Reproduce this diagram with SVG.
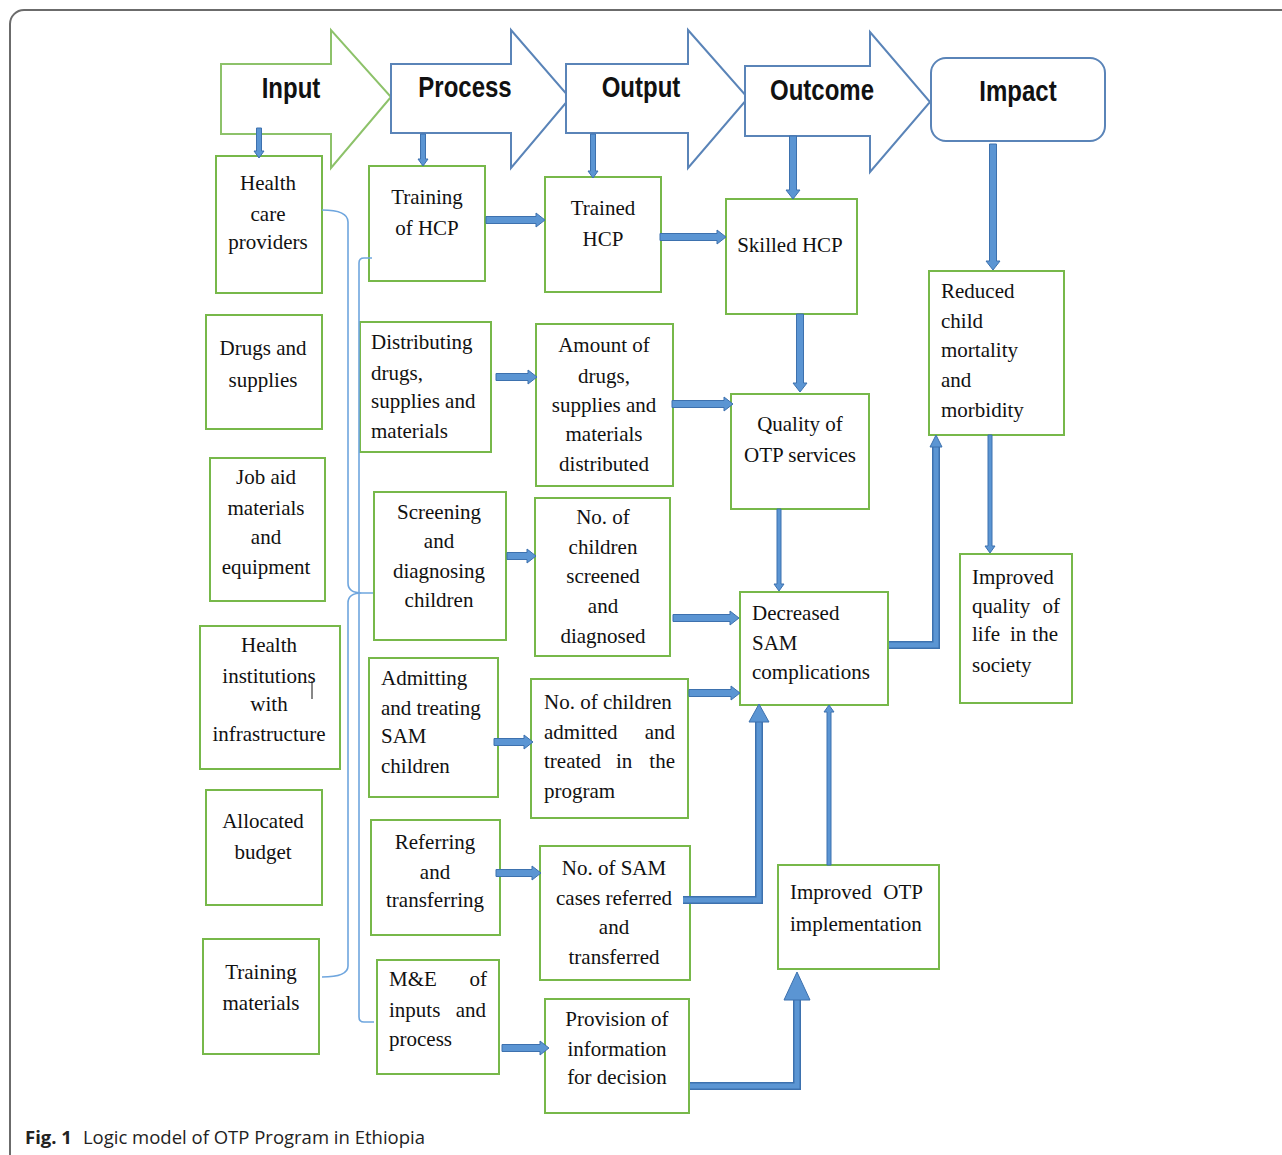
<svg xmlns="http://www.w3.org/2000/svg" width="1282" height="1155" viewBox="0 0 1282 1155">
<defs>
<style>
.box{fill:#fff;stroke:#77b84a;stroke-width:2}
.t{font-family:"Liberation Serif","Times New Roman",serif;font-size:21px;fill:#111}
.c{text-anchor:middle}
.e{text-anchor:end}
.hd{font-family:"Liberation Sans",Arial,sans-serif;font-size:24px;font-weight:bold;fill:#111;text-anchor:middle}
.blk{fill:#5b95d3;stroke:#3d71ae;stroke-width:1}
.under{fill:none;stroke:#3d71ae;stroke-width:8}
.over{fill:none;stroke:#5b95d3;stroke-width:5}
.brace{fill:none;stroke:#6fa6de;stroke-width:1.6}
</style>
</defs>
<rect width="1282" height="1155" fill="#fff"/>
<rect x="10" y="10" width="1300" height="1170" rx="14" fill="none" stroke="#6b6b6b" stroke-width="2"/>

<g id="headers">
<g id="h-input"><path d="M221,64 L331,64 L331,30 L391,97 L331,168 L331,134 L221,134 Z" fill="#fff" stroke="#8dc26a" stroke-width="2"/>
<text class="hd" transform="translate(291,98) scale(1,1.25)">Input</text></g>
<g id="h-process"><path d="M391,64 L511,64 L511,30 L570,98 L511,168 L511,133 L391,133 Z" fill="#fff" stroke="#5a84b8" stroke-width="2"/>
<text class="hd" transform="translate(465,97) scale(1,1.25)">Process</text></g>
<g id="h-output"><path d="M566,64 L688,64 L688,30 L748,98 L688,168 L688,133 L566,133 Z" fill="#fff" stroke="#5a84b8" stroke-width="2"/>
<text class="hd" transform="translate(641,97) scale(1,1.25)">Output</text></g>
<g id="h-outcome"><path d="M745,66 L870,66 L870,32 L930,102 L870,172 L870,136 L745,136 Z" fill="#fff" stroke="#5a84b8" stroke-width="2"/>
<text class="hd" transform="translate(822,100) scale(1,1.25)">Outcome</text></g>
<g id="h-impact"><rect x="931" y="58" width="174" height="83" rx="15" fill="#fff" stroke="#5a84b8" stroke-width="2"/>
<text class="hd" transform="translate(1018,101) scale(1,1.25)">Impact</text></g>
</g>

<g id="in1"><rect class="box" x="216" y="156" width="106" height="137"/>
<text class="t c" x="268" y="190">Health</text><text class="t c" x="268" y="221">care</text><text class="t c" x="268" y="249">providers</text></g>
<g id="in2"><rect class="box" x="206" y="315" width="116" height="114"/>
<text class="t c" x="263" y="355">Drugs and</text><text class="t c" x="263" y="387">supplies</text></g>
<g id="in3"><rect class="box" x="210" y="458" width="115" height="143"/>
<text class="t c" x="266" y="484">Job aid</text><text class="t c" x="266" y="515">materials</text><text class="t c" x="266" y="544">and</text><text class="t c" x="266" y="574">equipment</text></g>
<g id="in4"><rect class="box" x="200" y="626" width="140" height="143"/>
<text class="t c" x="269" y="652">Health</text><text class="t c" x="269" y="683">institutions</text><text class="t c" x="269" y="711">with</text><text class="t c" x="269" y="741">infrastructure</text>
<line x1="312" y1="681" x2="312" y2="699" stroke="#111" stroke-width="1"/></g>
<g id="in5"><rect class="box" x="206" y="790" width="116" height="115"/>
<text class="t c" x="263" y="828">Allocated</text><text class="t c" x="263" y="859">budget</text></g>
<g id="in6"><rect class="box" x="203" y="939" width="116" height="115"/>
<text class="t c" x="261" y="979">Training</text><text class="t c" x="261" y="1010">materials</text></g>

<g id="p1"><rect class="box" x="369" y="166" width="116" height="115"/>
<text class="t c" x="427" y="204">Training</text><text class="t c" x="427" y="235">of HCP</text></g>
<g id="p2"><rect class="box" x="360" y="322" width="131" height="130"/>
<text class="t" x="371" y="349">Distributing</text><text class="t" x="371" y="380">drugs,</text><text class="t" x="371" y="408">supplies and</text><text class="t" x="371" y="438">materials</text></g>
<g id="p3"><rect class="box" x="374" y="492" width="132" height="148"/>
<text class="t c" x="439" y="519">Screening</text><text class="t c" x="439" y="548">and</text><text class="t c" x="439" y="578">diagnosing</text><text class="t c" x="439" y="607">children</text></g>
<g id="p4"><rect class="box" x="369" y="658" width="129" height="139"/>
<text class="t" x="381" y="685">Admitting</text><text class="t" x="381" y="715">and treating</text><text class="t" x="381" y="743">SAM</text><text class="t" x="381" y="773">children</text></g>
<g id="p5"><rect class="box" x="371" y="820" width="129" height="115"/>
<text class="t c" x="435" y="849">Referring</text><text class="t c" x="435" y="879">and</text><text class="t c" x="435" y="907">transferring</text></g>
<g id="p6"><rect class="box" x="377" y="960" width="122" height="114"/>
<text class="t" x="389" y="986">M&amp;E</text><text class="t e" x="487" y="986">of</text>
<text class="t" x="389" y="1017">inputs</text><text class="t e" x="486" y="1017">and</text>
<text class="t" x="389" y="1046">process</text></g>

<g id="o1"><rect class="box" x="545" y="177" width="116" height="115"/>
<text class="t c" x="603" y="215">Trained</text><text class="t c" x="603" y="246">HCP</text></g>
<g id="o2"><rect class="box" x="536" y="324" width="137" height="162"/>
<text class="t c" x="604" y="352">Amount of</text><text class="t c" x="604" y="383">drugs,</text><text class="t c" x="604" y="412">supplies and</text><text class="t c" x="604" y="441">materials</text><text class="t c" x="604" y="471">distributed</text></g>
<g id="o3"><rect class="box" x="535" y="498" width="135" height="158"/>
<text class="t c" x="603" y="524">No. of</text><text class="t c" x="603" y="554">children</text><text class="t c" x="603" y="583">screened</text><text class="t c" x="603" y="613">and</text><text class="t c" x="603" y="643">diagnosed</text></g>
<g id="o4"><rect class="box" x="531" y="679" width="157" height="139"/>
<text class="t" x="544" y="709">No. of children</text>
<text class="t" x="544" y="739">admitted</text><text class="t e" x="675" y="739">and</text>
<text class="t" x="544" y="768">treated</text><text class="t" x="616" y="768">in</text><text class="t e" x="675" y="768">the</text>
<text class="t" x="544" y="798">program</text></g>
<g id="o5"><rect class="box" x="540" y="846" width="150" height="134"/>
<text class="t c" x="614" y="875">No. of SAM</text><text class="t c" x="614" y="905">cases referred</text><text class="t c" x="614" y="934">and</text><text class="t c" x="614" y="964">transferred</text></g>
<g id="o6"><rect class="box" x="545" y="999" width="144" height="114"/>
<text class="t c" x="617" y="1026">Provision of</text><text class="t c" x="617" y="1056">information</text><text class="t c" x="617" y="1084">for decision</text></g>

<g id="oc1"><rect class="box" x="726" y="199" width="131" height="115"/>
<text class="t c" x="790" y="252">Skilled HCP</text></g>
<g id="oc2"><rect class="box" x="731" y="394" width="138" height="115"/>
<text class="t c" x="800" y="431">Quality of</text><text class="t c" x="800" y="462">OTP services</text></g>
<g id="oc3"><rect class="box" x="740" y="592" width="148" height="113"/>
<text class="t" x="752" y="620">Decreased</text><text class="t" x="752" y="650">SAM</text><text class="t" x="752" y="679">complications</text></g>
<g id="oc4"><rect class="box" x="778" y="865" width="161" height="104"/>
<text class="t" x="790" y="899">Improved</text><text class="t e" x="923" y="899">OTP</text><text class="t" x="790" y="931">implementation</text></g>

<g id="im1"><rect class="box" x="929" y="271" width="135" height="164"/>
<text class="t" x="941" y="298">Reduced</text><text class="t" x="941" y="328">child</text><text class="t" x="941" y="357">mortality</text><text class="t" x="941" y="387">and</text><text class="t" x="941" y="417">morbidity</text></g>
<g id="im2"><rect class="box" x="960" y="554" width="112" height="149"/>
<text class="t" x="972" y="584">Improved</text>
<text class="t" x="972" y="613">quality</text><text class="t e" x="1060" y="613">of</text>
<text class="t" x="972" y="641">life</text><text class="t" x="1010" y="641">in</text><text class="t e" x="1058" y="641">the</text>
<text class="t" x="972" y="672">society</text></g>

<g id="connectors">
<path class="brace" d="M322,210 Q348,210 348,222 L348,583 Q348,593 362,593 L373,593 M362,593 Q348,593 348,603 L348,966 Q348,977 322,977"/>
<path class="brace" d="M372,258 L364,258 Q359,258 359,263 L359,1017 Q359,1022 364,1022 L374,1022"/>

<polygon class="blk" points="486,216.5 536,216.5 536,213 545,220 536,227 536,223.5 486,223.5"/>
<polygon class="blk" points="660,233.5 717,233.5 717,230 726,237 717,244 717,240.5 660,240.5"/>
<polygon class="blk" points="496,373.5 528,373.5 528,370 537,377 528,384 528,380.5 496,380.5"/>
<polygon class="blk" points="672,400.5 724,400.5 724,397 733,404 724,411 724,407.5 672,407.5"/>
<polygon class="blk" points="507,552.5 527,552.5 527,549 536,556 527,563 527,559.5 507,559.5"/>
<polygon class="blk" points="673,614.5 730,614.5 730,611 739,618 730,625 730,621.5 673,621.5"/>
<polygon class="blk" points="494,738.5 524,738.5 524,735 533,742 524,749 524,745.5 494,745.5"/>
<polygon class="blk" points="689,689.5 731,689.5 731,686 740,693 731,700 731,696.5 689,696.5"/>
<polygon class="blk" points="496,869.5 532,869.5 532,866 541,873 532,880 532,876.5 496,876.5"/>
<polygon class="blk" points="502,1044.5 540,1044.5 540,1041 549,1048 540,1055 540,1051.5 502,1051.5"/>

<polygon class="blk" points="256.5,128 261.5,128 261.5,151 264,151 259,158 254,151 256.5,151"/>
<polygon class="blk" points="420.5,134 425.5,134 425.5,159 428,159 423,166 418,159 420.5,159"/>
<polygon class="blk" points="590.5,134 595.5,134 595.5,171 598,171 593,178 588,171 590.5,171"/>
<polygon class="blk" points="789.5,136 796.5,136 796.5,190 800,190 793,199 786,190 789.5,190"/>
<polygon class="blk" points="989.5,144 996.5,144 996.5,261 1000,261 993,270 986,261 989.5,261"/>
<polygon class="blk" points="796.5,314 803.5,314 803.5,383 807,383 800,392 793,383 796.5,383"/>
<polygon class="blk" points="777,509 781,509 781,584 784,584 779,591 774,584 777,584"/>
<polygon class="blk" points="988,435 992,435 992,546 995,546 990,553 985,546 988,546"/>
<polygon class="blk" points="827,865 831,865 831,712 834,712 829,705 824,712 827,712"/>

<polyline class="under" points="683,900 759,900 759,720"/>
<polyline class="over" points="683,900 759,900 759,720"/>
<polygon class="blk" points="749,722 769,722 759,704"/>

<polyline class="under" points="889,645 936,645 936,446"/>
<polyline class="over" points="889,645 936,645 936,446"/>
<polygon class="blk" points="930,447 942,447 936,435"/>

<polyline class="under" points="690,1086 797,1086 797,998"/>
<polyline class="over" points="690,1086 797,1086 797,998"/>
<polygon class="blk" points="784,1000 810,1000 797,972"/>
</g>

<text x="25" y="1144" font-family="'Open Sans','Noto Sans',sans-serif" font-size="18.5" fill="#222"><tspan font-weight="bold">Fig. 1</tspan><tspan dx="11">Logic model of OTP Program in Ethiopia</tspan></text>
</svg>
